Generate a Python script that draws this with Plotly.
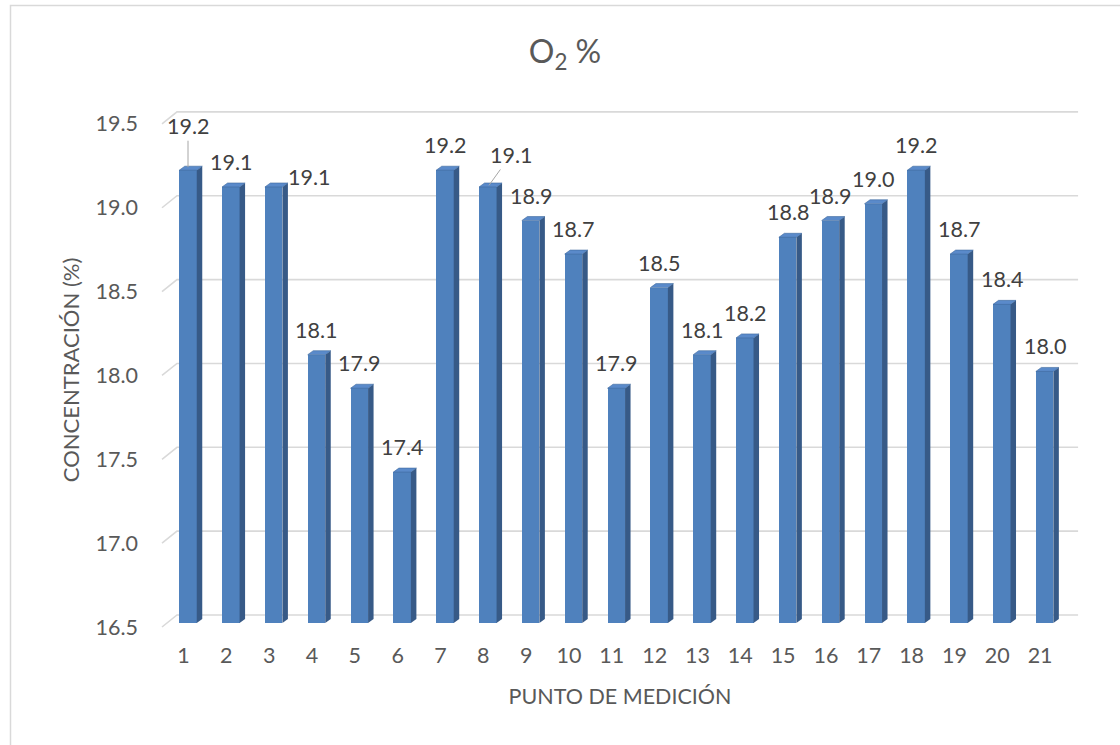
import plotly.graph_objects as go

# Measurement points and O2 concentration readings (%)
puntos = list(range(1, 22))
o2 = [19.2, 19.1, 19.1, 18.1, 17.9, 17.4, 19.2, 19.1, 18.9, 18.7, 17.9,
      18.5, 18.1, 18.2, 18.8, 18.9, 19.0, 19.2, 18.7, 18.4, 18.0]
y_ticks = [16.5, 17.0, 17.5, 18.0, 18.5, 19.0, 19.5]

# ---- layout geometry (pixels) ----
W, H = 1120, 745
PL, PR, PT, PB = 155, 1085, 100, 640          # plot area
X0 = 1 - 28.5 / 42.83                           # x range start
PX_X = 42.83                                    # px per category
PX_Y = 167.7                                    # px per y unit
Y0 = 16.5 - (PB - 627) / PX_Y                   # y range start
X1 = X0 + (PR - PL) / PX_X
Y1 = Y0 + (PB - PT) / PX_Y


def ux(px):
    return px / PX_X


def uy(px):
    return px / PX_Y


BASE = 16.5
FRONT_SHIFT = 4.5     # front face centre offset from category tick
FRONT_W = 17.5
DEPTH_X, DEPTH_Y = 5.5, 4.0
LIFT = 4.0            # front plane above tick-label level
WALL_X, WALL_Y = 15.0, 12.0

FRONT = "#4F81BD"
SIDE = "#375A87"
TOP = "#5A8ACA"
GRID = "#D9D9D9"
TXT = "#595959"
FONT = "Lato, Carlito, Calibri, sans-serif"
FS = 21.5

fig = go.Figure()

# back-wall gridlines with left-wall diagonal (below all traces)
x_front = X0 + ux(7)
x_back = x_front + ux(WALL_X)
x_end = 21 + ux(38)
for t in y_ticks:
    yb = t + uy(WALL_Y)
    fig.add_shape(type="path", xref="x", yref="y", layer="below",
                  path=f"M {x_front},{t} L {x_back},{yb} L {x_end},{yb}",
                  line=dict(color=GRID, width=1.6))

# side and top faces of the 3D columns
sx, sy, tx, ty = [], [], [], []
for p, v in zip(puntos, o2):
    xl = p + ux(FRONT_SHIFT - FRONT_W / 2)
    xr = p + ux(FRONT_SHIFT + FRONT_W / 2)
    yb = BASE + uy(LIFT)
    yt = v + uy(LIFT)
    dx, dy = ux(DEPTH_X), uy(DEPTH_Y)
    sx += [xr, xr + dx, xr + dx, xr, xr, None]
    sy += [yb, yb + dy, yt + dy, yt, yb, None]
    tx += [xl, xl + dx, xr + dx, xr, xl, None]
    ty += [yt, yt + dy, yt + dy, yt, yt, None]

fig.add_trace(go.Scatter(x=sx, y=sy, mode="lines", fill="toself",
                         fillcolor=SIDE, line=dict(width=0, color=SIDE),
                         hoverinfo="skip", showlegend=False))
fig.add_trace(go.Scatter(x=tx, y=ty, mode="lines", fill="toself",
                         fillcolor=TOP, line=dict(width=0.6, color="#3F6A9E"),
                         hoverinfo="skip", showlegend=False))

# front faces
fig.add_trace(go.Bar(
    x=puntos, y=[v - BASE for v in o2], base=BASE + uy(LIFT),
    width=ux(FRONT_W), offset=ux(FRONT_SHIFT - FRONT_W / 2),
    marker=dict(color=FRONT, line=dict(width=0)),
    customdata=o2, hovertemplate="%{x}: %{customdata:.1f}<extra></extra>",
    showlegend=False))

# value labels
for p, v in zip(puntos, o2):
    ann = dict(x=p + ux(FRONT_SHIFT), y=v + uy(LIFT), text=f"{v:.1f}",
               font=dict(family=FONT, size=FS, color="#404040"),
               xanchor="center", yanchor="middle", showarrow=False,
               yshift=25)
    if p == 1:
        ann.update(showarrow=True, ax=0, ay=-44, yshift=0, arrowhead=0,
                   arrowwidth=1, arrowcolor="#A6A6A6", standoff=3)
    elif p == 3:
        ann.update(xshift=35, yshift=10)
    elif p == 8:
        ann.update(showarrow=True, ax=23, ay=-32, yshift=0, arrowhead=0,
                   arrowwidth=1, arrowcolor="#A6A6A6", standoff=2)
    fig.add_annotation(**ann)

# chart-area border
fig.add_shape(type="rect", xref="paper", yref="paper",
              x0=(10.5 - PL) / (PR - PL), x1=1.3,
              y0=-0.5, y1=(PB - 5.5) / (PB - PT),
              line=dict(color=GRID, width=1.5), fillcolor="rgba(0,0,0,0)")

fig.update_layout(
    width=W, height=H,
    margin=dict(l=PL, r=W - PR, t=PT, b=H - PB),
    paper_bgcolor="white", plot_bgcolor="white",
    font=dict(family=FONT, size=FS, color=TXT),
    title=dict(text="O<sub>2</sub> %", x=565 / W, xref="container",
               xanchor="center", y=1 - 52 / H, yanchor="middle",
               font=dict(family=FONT, size=32, color=TXT)),
    xaxis=dict(range=[X0, X1], tickvals=puntos,
               ticktext=[str(p) for p in puntos],
               showgrid=False, zeroline=False, showline=False,
               ticks="", tickfont=dict(size=FS, color=TXT),
               title=dict(text="PUNTO DE MEDICIÓN", standoff=22,
                          font=dict(size=FS, color=TXT))),
    yaxis=dict(range=[Y0, Y1], tickvals=y_ticks,
               ticktext=[f"{t:.1f}" for t in y_ticks],
               showgrid=False, zeroline=False, showline=False,
               ticks="", ticklabelstandoff=16,
               tickfont=dict(size=FS, color=TXT),
               title=dict(text="CONCENTRACIÓN (%)", standoff=9,
                          font=dict(size=22, color=TXT))),
    bargap=0,
)

fig.write_html("out.html")
